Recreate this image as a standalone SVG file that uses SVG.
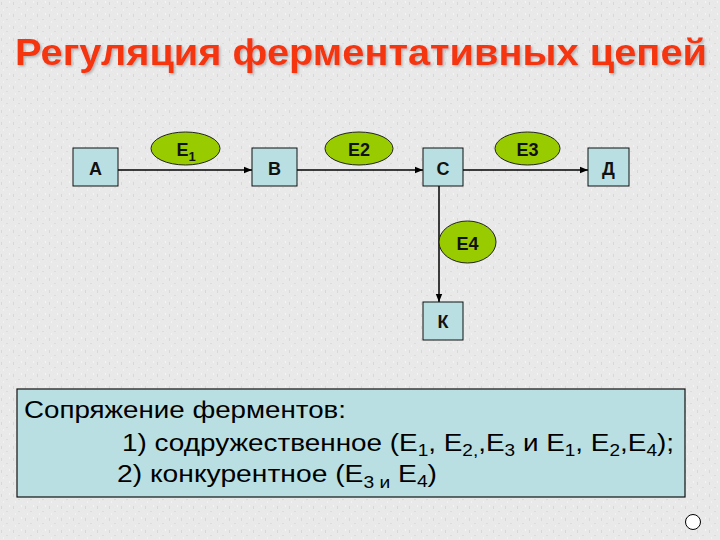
<svg xmlns="http://www.w3.org/2000/svg" width="720" height="540" viewBox="0 0 720 540">
<defs>
<pattern id="tex" width="12" height="12" patternUnits="userSpaceOnUse">
<rect width="12" height="12" fill="#e9e9e9"/>
<rect x="1" y="2" width="1" height="3" fill="#d8d8d8"/>
<rect x="6" y="7" width="2" height="1" fill="#dcdcdc"/>
<rect x="9" y="1" width="1" height="2" fill="#f4f4f4"/>
<rect x="3" y="9" width="1" height="2" fill="#f2f2f2"/>
</pattern>
<marker id="arr" viewBox="0 0 10 10" refX="10" refY="5" markerWidth="8" markerHeight="8" markerUnits="userSpaceOnUse" orient="auto">
<path d="M0,1 L10,5 L0,9 z" fill="#000"/>
</marker>
<filter id="sh" x="-5%" y="-20%" width="110%" height="150%">
<feDropShadow dx="1.5" dy="1.5" stdDeviation="0.8" flood-color="#8a8a8a" flood-opacity="0.6"/>
</filter>
</defs>
<style>
.box{fill:#b9dfe2;stroke:#111;stroke-width:1}
.enz{fill:#99cc00;stroke:#222;stroke-width:1}
.lbl{font-family:"Liberation Sans",Arial,sans-serif;font-weight:bold;font-size:18px;fill:#111;text-anchor:middle}
.con{stroke:#000;stroke-width:1.5;fill:none}
.txt{font-family:"Liberation Sans",Arial,sans-serif;font-size:23.5px;fill:#000}
</style>
<rect width="720" height="540" fill="url(#tex)"/>
<text x="15" y="65" textLength="692" lengthAdjust="spacingAndGlyphs" font-family="Liberation Sans, Arial, sans-serif" font-weight="bold" font-size="37" fill="#f5340f" filter="url(#sh)">Регуляция ферментативных цепей</text>
<g id="connectors">
<line class="con" x1="118" y1="170" x2="252" y2="170" marker-end="url(#arr)"/>
<line class="con" x1="297" y1="170" x2="423" y2="170" marker-end="url(#arr)"/>
<line class="con" x1="463" y1="170" x2="588" y2="170" marker-end="url(#arr)"/>
<line class="con" x1="439" y1="186" x2="439" y2="302" marker-end="url(#arr)"/>
</g>
<g id="A"><rect class="box" x="73" y="148" width="45" height="38"/><text class="lbl" x="95.5" y="175">А</text></g>
<g id="B"><rect class="box" x="252" y="148" width="45" height="38"/><text class="lbl" x="274.5" y="175">В</text></g>
<g id="C"><rect class="box" x="423" y="148" width="40" height="38"/><text class="lbl" x="443" y="175">С</text></g>
<g id="D"><rect class="box" x="588" y="148" width="41" height="38"/><text class="lbl" x="608.5" y="175">Д</text></g>
<g id="K"><rect class="box" x="423" y="302" width="40" height="38"/><text class="lbl" x="443" y="328">К</text></g>
<g id="E1"><ellipse class="enz" cx="185.5" cy="148.5" rx="34.5" ry="16.5"/><text class="lbl" x="186" y="156">Е<tspan font-size="13" dy="5">1</tspan></text></g>
<g id="E2"><ellipse class="enz" cx="359" cy="148.5" rx="34" ry="16.5"/><text class="lbl" x="359" y="156">Е2</text></g>
<g id="E3"><ellipse class="enz" cx="527.5" cy="148.5" rx="32.5" ry="16.5"/><text class="lbl" x="527.5" y="156">Е3</text></g>
<g id="E4"><ellipse class="enz" cx="467.5" cy="242" rx="28.5" ry="21"/><text class="lbl" x="467.5" y="250">Е4</text></g>
<g id="note">
<rect x="17" y="389" width="668" height="108" fill="#b9dfe2" stroke="#111" stroke-width="1.2"/>
<text class="txt" x="24" y="418" textLength="322" lengthAdjust="spacingAndGlyphs">Сопряжение ферментов:</text>
<text class="txt" x="122" y="451" textLength="552" lengthAdjust="spacingAndGlyphs">1) содружественное  (Е<tspan font-size="16" dy="5">1</tspan><tspan dy="-5">, Е</tspan><tspan font-size="16" dy="5">2,</tspan><tspan dy="-5">,Е</tspan><tspan font-size="16" dy="5">3</tspan><tspan dy="-5"> и Е</tspan><tspan font-size="16" dy="5">1</tspan><tspan dy="-5">, Е</tspan><tspan font-size="16" dy="5">2</tspan><tspan dy="-5">,Е</tspan><tspan font-size="16" dy="5">4</tspan><tspan dy="-5">);</tspan></text>
<text class="txt" x="117" y="482" textLength="320" lengthAdjust="spacingAndGlyphs">2) конкурентное (Е<tspan font-size="16" dy="6">3 и</tspan><tspan dy="-6">  Е</tspan><tspan font-size="16" dy="5">4</tspan><tspan dy="-5">)</tspan></text>
</g>
<circle cx="693" cy="522" r="7.5" fill="#fff" stroke="#000" stroke-width="1"/>
</svg>
